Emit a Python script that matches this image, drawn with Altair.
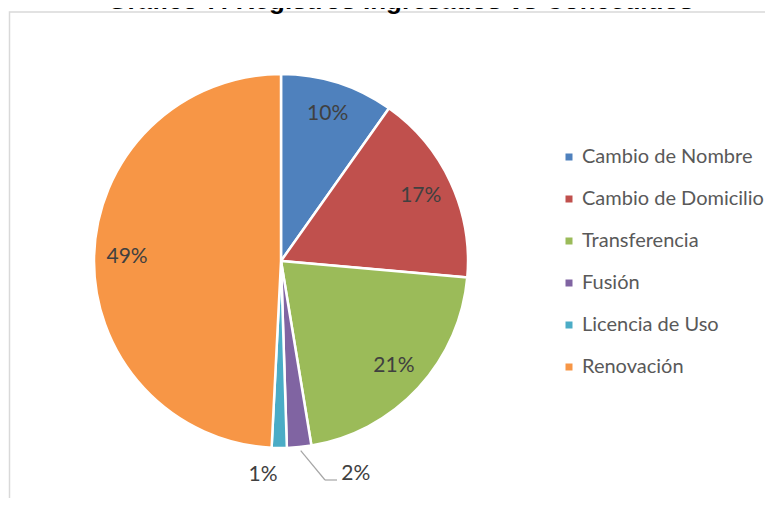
import altair as alt
import pandas as pd

# ---- data ----
categories = ["Cambio de Nombre", "Cambio de Domicilio", "Transferencia",
              "Fusión", "Licencia de Uso", "Renovación"]
shares = [9.8, 16.6, 21.0, 2.1, 1.3, 49.2]
colors = ["#4F81BD", "#C0504D", "#9BBB59", "#8064A2", "#4BACC6", "#F79646"]
title_text = "Gráfico 7: Registros Ingresados vs Concedidos"

df = pd.DataFrame({"categoria": categories, "valor": shares,
                   "idx": list(range(len(categories)))})

CX, CY, R = 273, 253, 187   # pie centre / radius in view pixels

base = alt.Chart(df).transform_joinaggregate(
    total="sum(valor)"
).transform_calculate(
    lab_in="datum.valor / datum.total >= 0.03 ? round(datum.valor / datum.total * 100) + '%' : ''",
    lab_lic="datum.categoria == 'Licencia de Uso' ? round(datum.valor / datum.total * 100) + '%' : ''",
    lab_fus="datum.categoria == 'Fusión' ? round(datum.valor / datum.total * 100) + '%' : ''",
).encode(
    theta=alt.Theta("valor:Q", stack=True),
    order=alt.Order("idx:Q", sort="ascending"),
)

color_enc = alt.Color(
    "categoria:N",
    scale=alt.Scale(domain=categories, range=colors),
    sort=categories,
    legend=alt.Legend(
        title=None, orient="none", legendX=551, legendY=139,
        symbolType="square", symbolSize=49, symbolStrokeWidth=0,
        labelFont="Lato", labelFontSize=20, labelColor="#595959",
        labelLimit=400, labelOffset=3, rowPadding=22, padding=0,
    ),
)

arcs = base.mark_arc(stroke="white", strokeWidth=2.5).encode(
    color=color_enc,
    x=alt.value(CX), y=alt.value(CY), radius=alt.value(R),
)

lab_style = dict(font="Lato", fontSize=21, color="#404040")

labels_in = base.mark_text(**lab_style).encode(
    text="lab_in:N", x=alt.value(CX), y=alt.value(CY), radius=alt.value(154),
)
label_lic = base.mark_text(dx=-16, **lab_style).encode(
    text="lab_lic:N", x=alt.value(CX), y=alt.value(CY), radius=alt.value(214),
)
label_fus = base.mark_text(dx=54, **lab_style).encode(
    text="lab_fus:N", x=alt.value(CX), y=alt.value(CY), radius=alt.value(214),
)

one = alt.Chart(pd.DataFrame({"k": [0]}))
leader1 = one.mark_rule(color="#A6A6A6", strokeWidth=1.2).encode(
    x=alt.value(292.7), y=alt.value(442.7), x2=alt.value(317), y2=alt.value(472))
leader2 = one.mark_rule(color="#A6A6A6", strokeWidth=1.2).encode(
    x=alt.value(317), y=alt.value(472), x2=alt.value(329), y2=alt.value(472))

border = one.mark_rect(filled=False, stroke="#D9D9D9", strokeWidth=1.5).encode(
    x=alt.value(1.5), y=alt.value(4), x2=alt.value(3000), y2=alt.value(3000))

title_mark = one.mark_text(font="Liberation Sans", fontSize=26, fontWeight="bold",
                           color="#000000", baseline="alphabetic").encode(
    x=alt.value(392.5), y=alt.value(1), text=alt.value(title_text))

chart = alt.layer(
    border, arcs, labels_in, label_lic, label_fus, leader1, leader2, title_mark
).properties(
    width=757, height=490,
    autosize=alt.AutoSizeParams(type="none"),
    padding=0,
).configure_view(stroke=None)

chart.save("out.html", embed_options={"renderer": "svg", "actions": False})
